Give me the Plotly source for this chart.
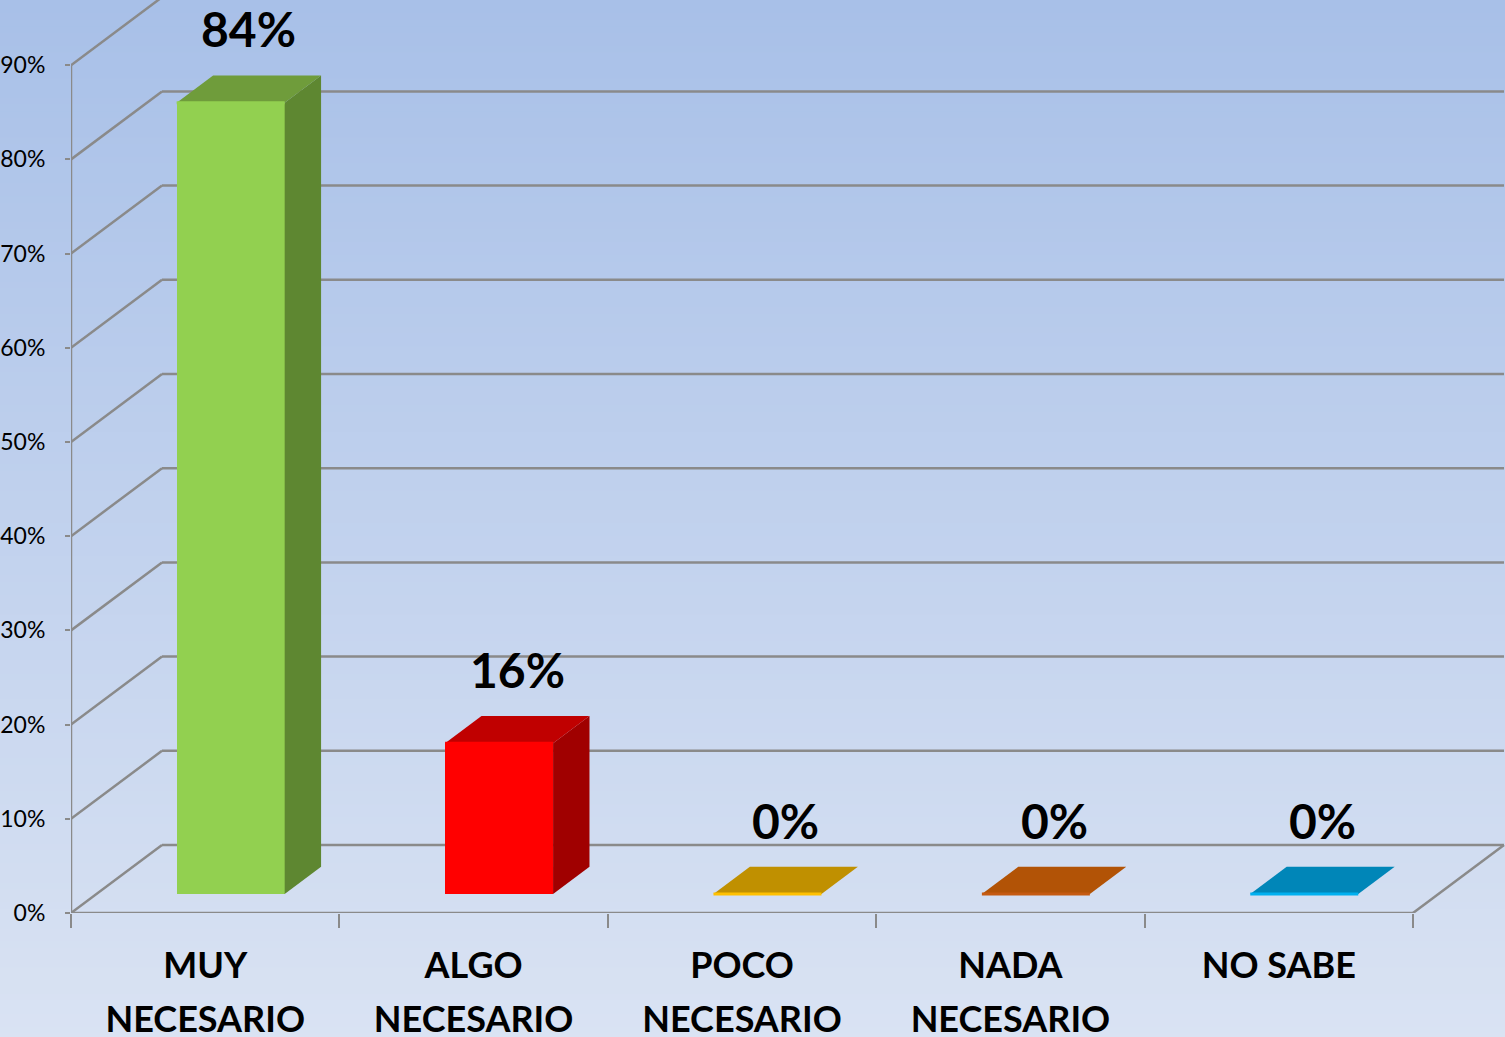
import plotly.graph_objects as go

# Data
cat_line1 = ["MUY", "ALGO", "POCO", "NADA", "NO SABE"]
cat_line2 = ["NECESARIO", "NECESARIO", "NECESARIO", "NECESARIO", ""]
values = [84, 16, 0, 0, 0]
y_ticks = [0, 10, 20, 30, 40, 50, 60, 70, 80, 90]
y_labels = ["0%", "10%", "20%", "30%", "40%", "50%", "60%", "70%", "80%", "90%"]

# Colours (front / top / side of each bar)
front_colors = ["#92D050", "#FF0000", "#FFC000", "#C55A11", "#00B0F0"]
top_colors = ["#6F9C3B", "#C00000", "#C09000", "#B25306", "#0086B8"]
side_colors = ["#5E8731", "#A00000", "#A07800", "#944505", "#006E98"]
GRID = "rgb(138,138,138)"
BG_TOP = (168, 192, 232)
BG_BOT = (218, 227, 243)

# Canvas / 3D geometry (pixels -> axis units)
W, H = 1505, 1037
L_MARGIN, B_MARGIN = 71, 124
CAT_PX = 268.4          # pixels per category on the front plane
PCT_PX = 9.42           # pixels per percent
X_MAX = (W - L_MARGIN) / CAT_PX
Y_MAX = (H - B_MARGIN) / PCT_PX
DX = 91 / CAT_PX        # full depth of the floor, x offset
DY = 68 / PCT_PX        # full depth of the floor, y offset
FRONT = 0.28            # bar front face depth (fraction of full depth)
DEPTH = 0.40            # bar depth (fraction of full depth)
BAR_W = 108 / CAT_PX
n = len(values)

fig = go.Figure()

shapes = []
# background gradient (paper coords, covers whole canvas)
px0 = -L_MARGIN / (W - L_MARGIN)
py0 = -B_MARGIN / (H - B_MARGIN)
strips = 160
for k in range(strips):
    t = k / (strips - 1)
    c = tuple(round(BG_BOT[j] + (BG_TOP[j] - BG_BOT[j]) * t) for j in range(3))
    y0 = py0 - 0.01 + (1 - py0 + 0.01) * k / strips
    y1 = py0 - 0.01 + (1 - py0 + 0.01) * (k + 1) / strips + 0.002
    shapes.append(dict(type="rect", xref="paper", yref="paper", x0=px0, x1=1,
                       y0=y0, y1=y1, fillcolor="rgb(%d,%d,%d)" % c,
                       line=dict(width=0), layer="below"))

gl = dict(color=GRID, width=2.5)
# side wall diagonals and back wall gridlines
for v in y_ticks:
    shapes.append(dict(type="line", xref="x", yref="y", x0=0, y0=v, x1=DX, y1=v + DY,
                       line=gl, layer="below"))
    shapes.append(dict(type="line", xref="x", yref="y", x0=DX, y0=v + DY, x1=n + DX, y1=v + DY,
                       line=gl, layer="below"))
# floor front edge, right edge, vertical axis line
shapes.append(dict(type="line", xref="x", yref="y", x0=0, y0=0, x1=n, y1=0, line=gl, layer="below"))
shapes.append(dict(type="line", xref="x", yref="y", x0=n, y0=0, x1=n + DX, y1=DY, line=gl, layer="below"))
shapes.append(dict(type="line", xref="x", yref="y", x0=0, y0=0, x1=0, y1=y_ticks[-1], line=gl, layer="below"))

# bars
bx0 = FRONT * DX
by0 = FRONT * DY
ddx = DEPTH * DX
ddy = DEPTH * DY
centers = [i + 0.5 + bx0 for i in range(n)]

fig.add_trace(go.Bar(
    x=centers, y=values, base=by0, width=BAR_W,
    marker=dict(color=front_colors, line=dict(width=0)),
    showlegend=False, hoverinfo="skip"
))

for i, v in enumerate(values):
    x0 = centers[i] - BAR_W / 2
    x1 = centers[i] + BAR_W / 2
    top = by0 + v
    # right side
    if v > 0:
        fig.add_trace(go.Scatter(
            x=[x1, x1 + ddx, x1 + ddx, x1, x1],
            y=[by0, by0 + ddy, top + ddy, top, by0],
            mode="lines", fill="toself", fillcolor=side_colors[i],
            line=dict(width=0), showlegend=False, hoverinfo="skip"))
    # top face
    fig.add_trace(go.Scatter(
        x=[x0, x1, x1 + ddx, x0 + ddx, x0],
        y=[top, top, top + ddy, top + ddy, top],
        mode="lines", fill="toself", fillcolor=top_colors[i],
        line=dict(width=0), showlegend=False, hoverinfo="skip"))
    # thin front edge
    fig.add_trace(go.Scatter(
        x=[x0, x1], y=[top, top], mode="lines",
        line=dict(color=front_colors[i], width=3),
        showlegend=False, hoverinfo="skip"))
    # data label
    fig.add_annotation(
        x=centers[i] + ddx / 2, y=top + ddy, yshift=16,
        text=f"{v}%", showarrow=False, yanchor="bottom",
        font=dict(family="Lato", size=48, color="black", weight="bold"))

cat_font = dict(family="Lato", size=36, color="black", weight="bold")
label_pos = [i + 0.5 for i in range(n)]
fig.update_layout(
    width=W, height=H,
    margin=dict(l=L_MARGIN, r=0, t=0, b=B_MARGIN),
    paper_bgcolor="rgba(0,0,0,0)",
    plot_bgcolor="rgba(0,0,0,0)",
    shapes=shapes,
    bargap=0,
    xaxis=dict(range=[0, X_MAX], tickvals=list(range(n + 1)), showticklabels=False,
               ticks="outside", ticklen=14, tickwidth=2, tickcolor=GRID, automargin=False,
               showgrid=False, zeroline=False, showline=False),
    xaxis2=dict(range=[0, X_MAX], overlaying="x", anchor="y", side="bottom",
                tickvals=label_pos, ticktext=cat_line1, ticks="", automargin=False,
                tickfont=cat_font, ticklabelstandoff=28,
                showgrid=False, zeroline=False, showline=False),
    xaxis3=dict(range=[0, X_MAX], overlaying="x", anchor="y", side="bottom",
                tickvals=label_pos, ticktext=cat_line2, ticks="", automargin=False,
                tickfont=cat_font, ticklabelstandoff=82,
                showgrid=False, zeroline=False, showline=False),
    yaxis=dict(range=[0, Y_MAX], tickvals=y_ticks, ticktext=y_labels,
               ticks="outside", ticklen=5, tickwidth=2, tickcolor=GRID,
               ticklabelstandoff=15, automargin=False,
               tickfont=dict(family="Lato", size=23, color="black"),
               showgrid=False, zeroline=False, showline=False),
)
# dummy traces so overlay axes render
fig.add_trace(go.Scatter(x=[None], y=[None], xaxis="x2", showlegend=False, hoverinfo="skip"))
fig.add_trace(go.Scatter(x=[None], y=[None], xaxis="x3", showlegend=False, hoverinfo="skip"))

fig.write_html(
    "out.html",
    config={"displayModeBar": False},
    post_script=("document.documentElement.style.overflow='hidden';"
                 "document.body.style.overflow='hidden';"
                 "document.body.style.margin='0';"),
)
